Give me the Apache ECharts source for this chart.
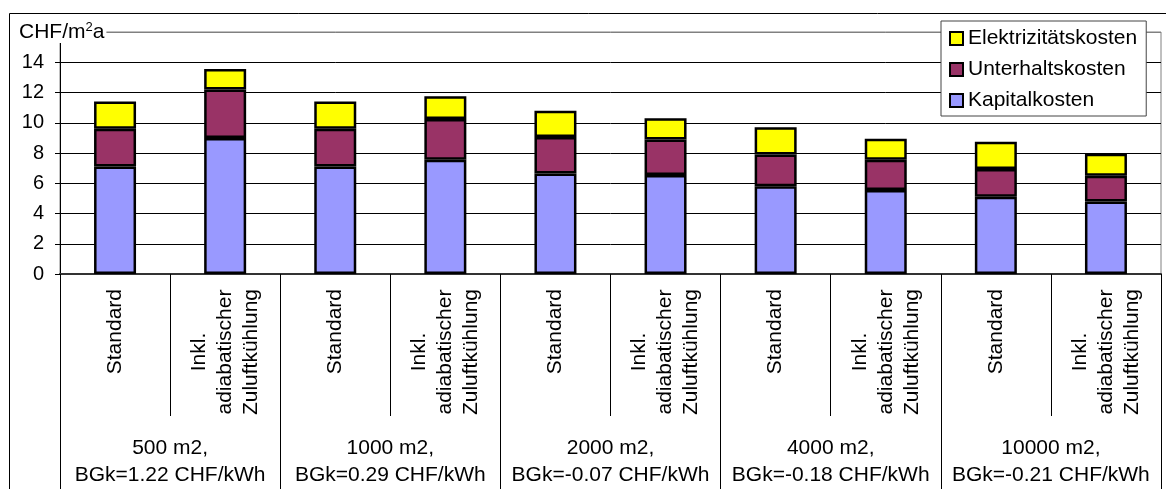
<!DOCTYPE html>
<html>
<head>
<meta charset="utf-8">
<script src="https://cdn.jsdelivr.net/npm/echarts@6/dist/echarts.min.js"></script>
<style>
html,body{margin:0;padding:0;background:#fff;}
#chart{width:1166px;height:489px;}
</style>
</head>
<body>
<div id="chart"></div>
<script>
const categories = [
  'Standard', 'Inkl.\nadiabatischer\nZuluftkühlung',
  'Standard', 'Inkl.\nadiabatischer\nZuluftkühlung',
  'Standard', 'Inkl.\nadiabatischer\nZuluftkühlung',
  'Standard', 'Inkl.\nadiabatischer\nZuluftkühlung',
  'Standard', 'Inkl.\nadiabatischer\nZuluftkühlung'
];
const groupLabels = [
  '500 m2,\nBGk=1.22 CHF/kWh',
  '1000 m2,\nBGk=0.29 CHF/kWh',
  '2000 m2,\nBGk=-0.07 CHF/kWh',
  '4000 m2,\nBGk=-0.18 CHF/kWh',
  '10000 m2,\nBGk=-0.21 CHF/kWh'
];
const kapitalkosten        = [7.1, 9.0, 7.1, 7.55, 6.65, 6.55, 5.8, 5.55, 5.1, 4.8];
const unterhaltskosten     = [2.5, 3.2, 2.5, 2.7, 2.4, 2.35, 2.1, 2.0, 1.85, 1.7];
const elektrizitaetskosten = [1.8, 1.35, 1.8, 1.5, 1.75, 1.4, 1.8, 1.4, 1.8, 1.45];

const FONT = "'Liberation Sans', Arial, sans-serif";
const chart = echarts.init(document.getElementById('chart'), null, {renderer: 'canvas'});

function barSeries(name, data, color) {
  return {
    name: name, type: 'bar', stack: 'total', data: data,
    xAxisIndex: 0, yAxisIndex: 0,
    barWidth: 42,
    itemStyle: {color: color, borderColor: '#000', borderWidth: 2.5},
    emphasis: {disabled: true}
  };
}

chart.setOption({
  animation: false,
  textStyle: {fontFamily: FONT},
  grid: {left: 60, right: 5, top: 32, bottom: 211, show: true, borderColor: '#808080', borderWidth: 1, backgroundColor: '#fff'},
  legend: {
    data: ['Elektrizitätskosten', 'Unterhaltskosten', 'Kapitalkosten'],
    orient: 'vertical', left: 941, top: 21,
    padding: [7, 9, 5, 8],
    itemGap: 10, itemWidth: 13, itemHeight: 13,
    icon: 'rect',
    backgroundColor: '#fff', borderColor: '#444', borderWidth: 1,
    textStyle: {fontFamily: FONT, fontSize: 21, color: '#000', lineHeight: 20},
    itemStyle: {borderColor: '#000', borderWidth: 2},
    selectedMode: false
  },
  xAxis: [{
    type: 'category', data: categories, position: 'bottom',
    axisLine: {show: true, lineStyle: {color: '#333', width: 2}},
    axisTick: {show: true, interval: 0, length: 142, lineStyle: {color: '#000', width: 1}},
    axisLabel: {
      interval: 0, rotate: 90, margin: 15, color: '#000',
      formatter: v => v.split('\n').map(l => '{c|' + l + '}').join('\n'),
      rich: {c: {fontFamily: FONT, fontSize: 21, color: '#000', lineHeight: 26, align: 'center'}}
    },
    splitLine: {show: false}
  }, {
    type: 'category', data: groupLabels, position: 'bottom',
    axisLine: {show: false},
    axisTick: {show: true, interval: 0, length: 215, lineStyle: {color: '#000', width: 1}},
    axisLabel: {interval: 0, margin: 161, fontFamily: FONT, fontSize: 21, color: '#000', lineHeight: 27},
    splitLine: {show: false}
  }],
  yAxis: {
    type: 'value', min: 0, max: 16, interval: 2,
    axisLine: {show: true, lineStyle: {color: '#000', width: 1}},
    axisTick: {show: true, length: 5, lineStyle: {color: '#000'}},
    axisLabel: {fontFamily: FONT, fontSize: 20, color: '#000', margin: 16, formatter: v => v === 16 ? '' : String(v)},
    splitLine: {show: true, lineStyle: {color: ['#000', '#000', '#000', '#000', '#000', '#000', '#000', '#000', '#808080'], width: 1}}
  },
  graphic: [{
    type: 'rect', z: -10, silent: true,
    shape: {x: 9.5, y: 13.5, width: 1200, height: 600},
    style: {fill: 'none', stroke: '#000', lineWidth: 1}
  }, {
    type: 'text', z: 100, x: 18, y: 32, silent: true,
    style: {
      text: 'CHF/m{s|2}a',
      fontFamily: FONT, fontSize: 21, fill: '#000',
      verticalAlign: 'middle', align: 'left',
      backgroundColor: '#fff', padding: [0, 2, 0, 1],
      rich: {s: {fontFamily: FONT, fontSize: 13, fill: '#000', verticalAlign: 'top', lineHeight: 22, padding: [0, 0, 8, 0]}}
    }
  }],
  series: [
    barSeries('Kapitalkosten', kapitalkosten, '#9999FF'),
    barSeries('Unterhaltskosten', unterhaltskosten, '#993366'),
    barSeries('Elektrizitätskosten', elektrizitaetskosten, '#FFFF00')
  ]
});
</script>
</body>
</html>
